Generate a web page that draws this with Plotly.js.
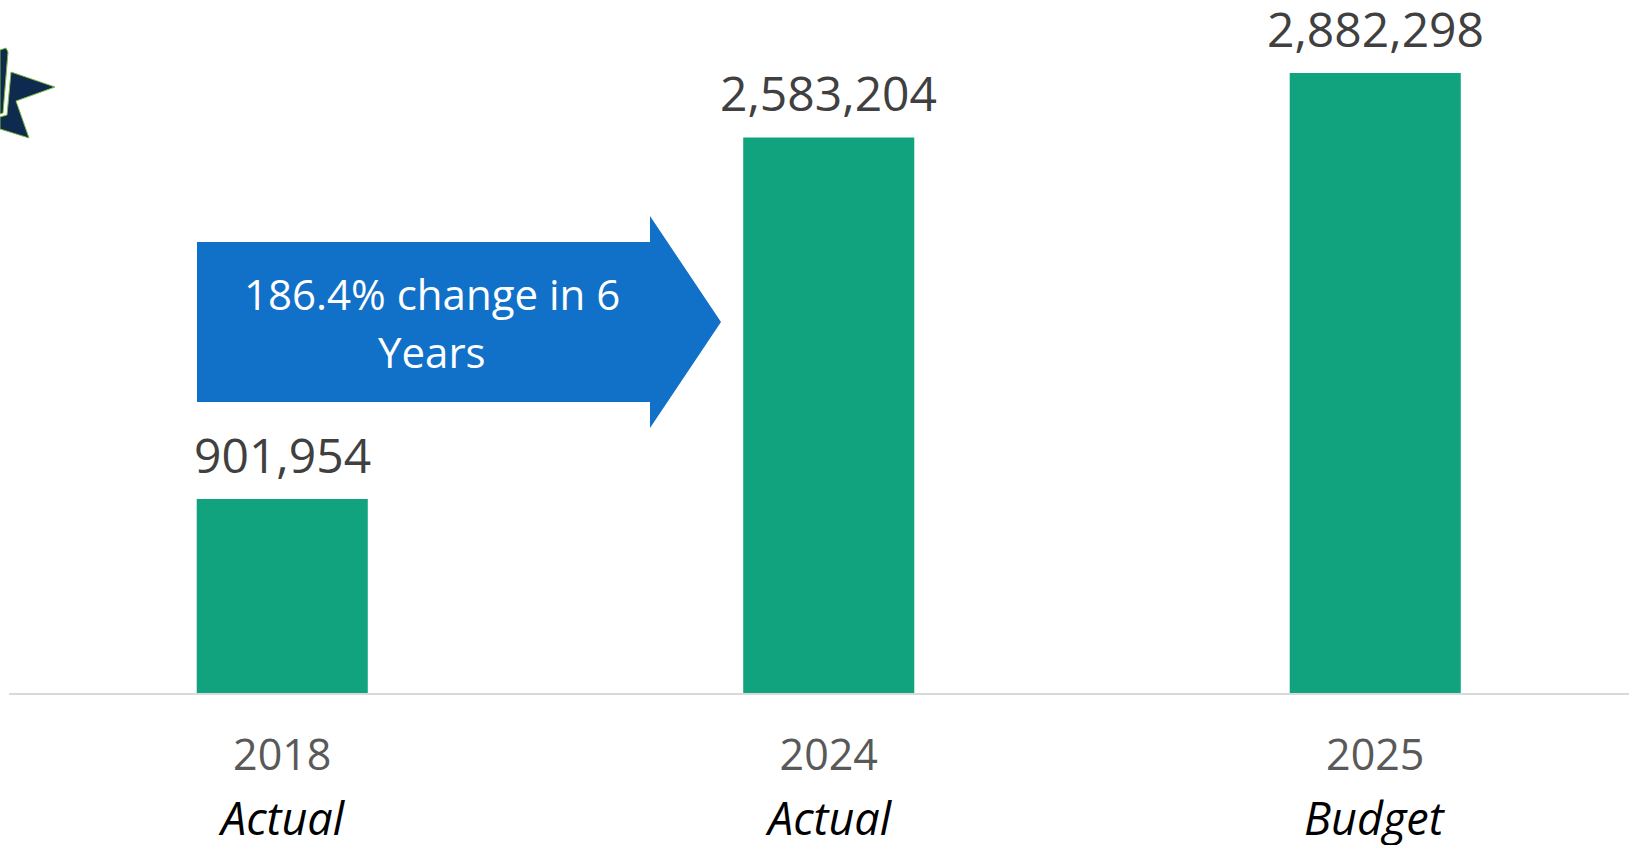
<!DOCTYPE html>
<html>
<head>
<meta charset="utf-8">
<script src="https://cdn.plot.ly/plotly-3.0.1.min.js"></script>
<style>html,body{margin:0;padding:0;background:#fff;overflow:hidden}</style>
</head>
<body>
<div id="chart" style="width:1629px;height:845px"></div>
<script>
// ---- data ----
const years = ["2018", "2024", "2025"];
const kinds = ["Actual", "Actual", "Budget"];
const values = [901954, 2583204, 2882298];
const valueLabels = ["901,954", "2,583,204", "2,882,298"];
const arrowText = "186.4% change in 6<br>Years";

// ---- layout helpers (pixel -> paper) ----
const W = 1629, H = 845;
const mL = 9, mR = 0, mT = 0, mB = 152;
const pw = W - mL - mR, ph = H - mT - mB;
const px = x => (x - mL) / pw;
const py = y => (H - mB - y) / ph;

const catIdx = years.map((_, i) => i);

const trace = {
  type: 'bar',
  x: catIdx,
  y: values,
  width: 0.313,
  marker: {color: '#10A37D'},
  hoverinfo: 'skip'
};

const annotations = catIdx.map(i => ({
  x: i, y: values[i], xref: 'x', yref: 'y',
  text: valueLabels[i], showarrow: false,
  yanchor: 'bottom', xanchor: 'center', yshift: 10,
  font: {family: 'Open Sans', size: 48, color: '#404040'}
}));

// second line of the category labels
catIdx.forEach(i => annotations.push({
  x: i, xref: 'x', yref: 'paper', y: py(817),
  text: '<i>' + kinds[i] + '</i>', showarrow: false,
  xanchor: 'center', yanchor: 'middle',
  font: {family: 'Open Sans', size: 45, color: '#000000'}
}));

// arrow text, line by line
const arrowLines = arrowText.split('<br>');
const arrowLineY = [294, 351];
arrowLines.forEach((t, k) => annotations.push({
  xref: 'paper', yref: 'paper',
  x: px(432), y: py(arrowLineY[k]),
  xanchor: 'center', yanchor: 'middle',
  text: t, showarrow: false,
  font: {family: 'Open Sans', size: 42, color: '#ffffff'}
}));

function pathFrom(pts) {
  return 'M ' + pts.map(p => px(p[0]) + ',' + py(p[1])).join(' L ') + ' Z';
}

const arrowPts = [[197,242],[650,242],[650,216],[721,322],[650,428],[650,402],[197,402]];
const starA = [[0,50],[6,48],[8,52],[3,113],[0,114]];
const starB = [[11,72],[55,87],[16,101],[29,138],[0,129],[0,117],[7,115]];

const shapes = [
  {type:'path', xref:'paper', yref:'paper', path: pathFrom(arrowPts),
   fillcolor:'#1170C8', line:{width:0}},
  {type:'path', xref:'paper', yref:'paper', path: pathFrom(starA),
   fillcolor:'#0E2A4F', line:{width:1, color:'#7DBB42'}},
  {type:'path', xref:'paper', yref:'paper', path: pathFrom(starB),
   fillcolor:'#0E2A4F', line:{width:1, color:'#7DBB42'}}
];

const layout = {
  width: W, height: H,
  margin: {l: mL, r: mR, t: mT, b: mB},
  paper_bgcolor: '#ffffff', plot_bgcolor: '#ffffff',
  showlegend: false,
  xaxis: {
    range: [-0.5, -0.5 + pw / 546.5],
    tickmode: 'array', tickvals: catIdx, ticktext: years,
    showline: true, linecolor: '#D9D9D9', linewidth: 2,
    showgrid: false, zeroline: false, ticks: '',
    ticklabelstandoff: 23,
    tickfont: {family: 'Open Sans', size: 43, color: '#595959'},
    fixedrange: true
  },
  yaxis: {
    range: [0, 3222000],
    showticklabels: false, showgrid: false, zeroline: false, showline: false,
    fixedrange: true
  },
  annotations: annotations,
  shapes: shapes
};

Plotly.newPlot('chart', [trace], layout, {displayModeBar: false, staticPlot: true});
</script>
</body>
</html>
